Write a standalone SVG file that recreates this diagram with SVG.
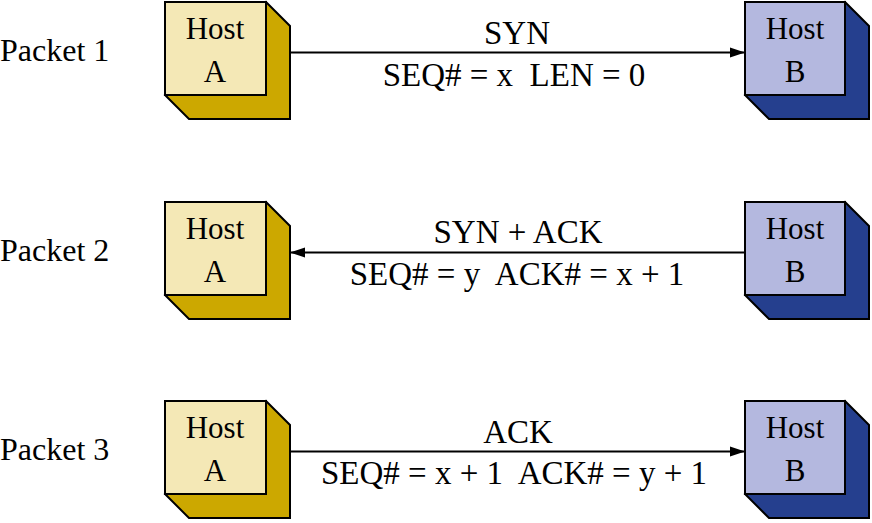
<svg xmlns="http://www.w3.org/2000/svg" width="872" height="523" viewBox="0 0 872 523">
<style>
  .lbl { font-size: 32px; }
  .host { font-size: 31px; text-anchor: middle; }
  .msg { font-size: 33px; text-anchor: middle; white-space: pre; }
  .faceA { fill: #F4E8B6; stroke: #000; stroke-width: 2; }
  .sideA { fill: #CCA800; stroke: #000; stroke-width: 2; stroke-linejoin: miter; }
  .faceB { fill: #B4B8DF; stroke: #000; stroke-width: 2; }
  .sideB { fill: #253F8E; stroke: #000; stroke-width: 2; stroke-linejoin: miter; }
  .conn { stroke: #000; stroke-width: 2; fill: none; }
</style>
<defs>
  <marker id="arr" markerWidth="16" markerHeight="12" refX="15" refY="6" orient="auto" markerUnits="userSpaceOnUse">
    <path d="M0,1 L15,6 L0,11 Z" fill="#000"/>
  </marker>
  <g id="hostA">
    <polygon class="sideA" points="266,2 290,26 290,119 189,119 165,95"/>
    <rect class="faceA" x="165" y="2" width="101" height="93"/>
  </g>
  <g id="hostB">
    <polygon class="sideB" points="845,2 869,26 869,119 769,119 745,95"/>
    <rect class="faceB" x="745" y="2" width="100" height="93"/>
  </g>
</defs>
<g fill="#000" font-family="Liberation Serif, Times New Roman, serif">
<text class="lbl" x="0" y="61">Packet 1</text>
<text class="lbl" x="0" y="261">Packet 2</text>
<text class="lbl" x="0" y="460">Packet 3</text>

<g id="row1-hostA">
  <use href="#hostA"/>
  <text class="host" x="215" y="39">Host</text>
  <text class="host" x="215" y="82">A</text>
</g>
<g id="row1-hostB">
  <use href="#hostB"/>
  <text class="host" x="795" y="39">Host</text>
  <text class="host" x="795" y="82">B</text>
</g>
<g id="row2-hostA" transform="translate(0,200)">
  <use href="#hostA"/>
  <text class="host" x="215" y="39">Host</text>
  <text class="host" x="215" y="82">A</text>
</g>
<g id="row2-hostB" transform="translate(0,200)">
  <use href="#hostB"/>
  <text class="host" x="795" y="39">Host</text>
  <text class="host" x="795" y="82">B</text>
</g>
<g id="row3-hostA" transform="translate(0,399)">
  <use href="#hostA"/>
  <text class="host" x="215" y="39">Host</text>
  <text class="host" x="215" y="82">A</text>
</g>
<g id="row3-hostB" transform="translate(0,399)">
  <use href="#hostB"/>
  <text class="host" x="795" y="39">Host</text>
  <text class="host" x="795" y="82">B</text>
</g>

<g id="connectors">
  <line class="conn" x1="290" y1="52.5" x2="745" y2="52.5" marker-end="url(#arr)"/>
  <line class="conn" x1="745" y1="252.5" x2="290" y2="252.5" marker-end="url(#arr)"/>
  <line class="conn" x1="290" y1="451.5" x2="745" y2="451.5" marker-end="url(#arr)"/>
  <text class="msg" x="517" y="44">SYN</text>
  <text class="msg" x="514" y="86">SEQ# = x  LEN = 0</text>
  <text class="msg" x="518" y="243">SYN + ACK</text>
  <text class="msg" x="517" y="285">SEQ# = y  ACK# = x + 1</text>
  <text class="msg" x="518" y="443">ACK</text>
  <text class="msg" x="514" y="484">SEQ# = x + 1  ACK# = y + 1</text>
</g>
</g>
</svg>
